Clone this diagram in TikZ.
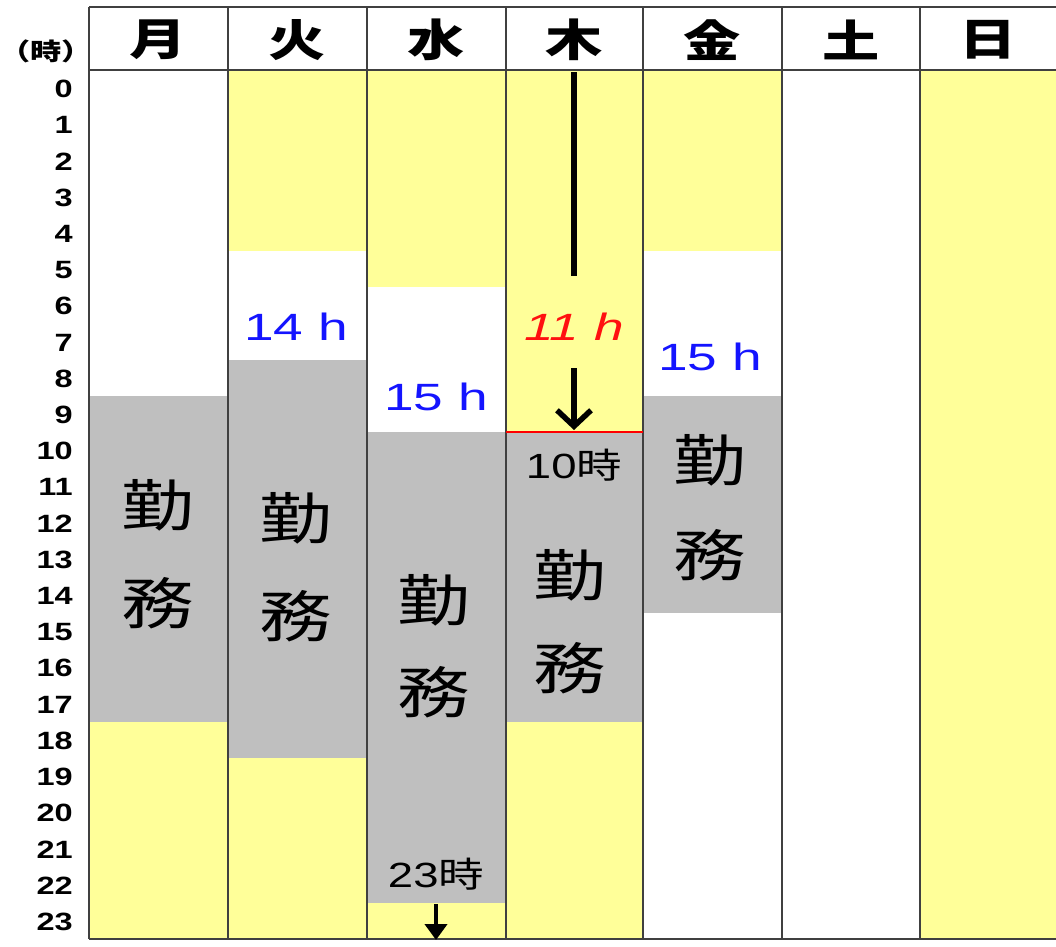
\documentclass[tikz,border=0pt]{standalone}
\usepackage{fontspec}
\usepackage{graphicx}
\setmainfont{Liberation Sans}
\newfontfamily\jp{Noto Sans CJK JP}
\usetikzlibrary{arrows.meta}
\definecolor{yel}{HTML}{FFFF99}
\definecolor{gry}{HTML}{BFBFBF}
\definecolor{gridc}{HTML}{404040}
\definecolor{hblue}{HTML}{1414FF}
\definecolor{hred}{HTML}{FF1010}
\newcommand\sx[1]{\scalebox{1.3}[1]{#1}}
\newcommand\sxx[1]{\scalebox{1.4}[1]{#1}}
\tikzset{
  hdr/.style={inner sep=0pt, font=\jp\bfseries\fontsize{44}{44}\selectfont},
  hour/.style={anchor=east, inner sep=0pt, font=\bfseries\fontsize{25}{25}\selectfont},
  dur/.style={inner sep=0pt, text=hblue, font=\fontsize{38}{38}\selectfont},
  work/.style={inner sep=0pt, font=\jp\fontsize{56}{56}\selectfont},
  tm/.style={inner sep=0pt, font=\fontsize{35}{35}\selectfont},
  gridline/.style={draw=gridc, line width=2pt},
}
\begin{document}
\begin{tikzpicture}[x=1pt,y=-1pt]
\useasboundingbox (0,0) rectangle (1056,946);
\fill[white] (0,0) rectangle (1056,946);
% column bands
\foreach \a/\b/\p/\q/\c in {
  89/228/0/9/white, 89/228/9/18/gry, 89/228/18/24/yel,
  228/367/0/5/yel, 228/367/5/8/white, 228/367/8/19/gry, 228/367/19/24/yel,
  367/506/0/6/yel, 367/506/6/10/white, 367/506/10/23/gry, 367/506/23/24/yel,
  506/643/0/10/yel, 506/643/10/18/gry, 506/643/18/24/yel,
  643/782/0/5/yel, 643/782/5/9/white, 643/782/9/15/gry, 643/782/15/24/white,
  782/920/0/24/white, 920/1056/0/24/yel}
  \fill[\c] (\a,{70+36.2*\p}) rectangle (\b,{70+36.2*\q});
% grid
\draw[gridline] (89,7) -- (1056,7);
\draw[gridline] (89,70) -- (1056,70);
\draw[gridline] (89,939) -- (1056,939);
\foreach \x in {89,228,367,506,643,782,920}
  \draw[gridline] (\x,7) -- (\x,939);
% red line
\draw[red, line width=2pt] (506,432) -- (643,432);
% headers
\node[hdr] (dMon) at (158.5,40) {\sx{月}};
\node[hdr] (dTue) at (297.5,40) {\sx{火}};
\node[hdr] (dWed) at (436.5,40) {\sx{水}};
\node[hdr] (dThu) at (574.5,40) {\sx{木}};
\node[hdr] (dFri) at (712.5,40) {\sx{金}};
\node[hdr] (dSat) at (851,40) {\sx{土}};
\node[hdr] (dSun) at (988,40) {\sx{日}};
\node[inner sep=0pt, font=\jp\bfseries\fontsize{24}{24}\selectfont] (unit) at (46,51) {\sx{（時）}};
% hours
\foreach \h in {0,...,23}
  \node[hour] (hr\h) at (73,{70+36.2*(\h+0.5)+1}) {\sx{\h}};
% durations
\node[dur] (d14) at (296,327) {\sxx{14 h}};
\node[dur] (d15a) at (436,397) {\sxx{15 h}};
\node[dur, text=hred, font=\itshape\fontsize{38}{38}\selectfont] (d11) at (574,327) {\sxx{11 h}};
\node[dur] (d15b) at (710,357) {\sxx{15 h}};
% work labels
\node[work] (k1) at (158,505) {\sx{勤}};
\node[work] (m1) at (158,603) {\sx{務}};
\node[work] (k2) at (296,518) {\sx{勤}};
\node[work] (m2) at (296,616) {\sx{務}};
\node[work] (k3) at (434,600) {\sx{勤}};
\node[work] (m3) at (434,692) {\sx{務}};
\node[work] (k4) at (570,575) {\sx{勤}};
\node[work] (m4) at (570,668) {\sx{務}};
\node[work] (k5) at (710,460) {\sx{勤}};
\node[work] (m5) at (710,555) {\sx{務}};
% times
\node[tm] (t10) at (574,465) {\sx{10{\jp 時}}};
\node[tm] (t23) at (436,874) {\sx{23{\jp 時}}};
% arrows
\coordinate (a1) at (574,72);
\coordinate (a2) at (574,276);
\coordinate (a3) at (574,368);
\coordinate (a4) at (574,430);
\draw[line width=5.5pt] (a1) -- (a2);
\draw[line width=5.5pt, -{Straight Barb[length=16pt, width=34pt, line width=5.5pt]}] (a3) -- (a4);
\coordinate (b1) at (436,904);
\coordinate (b2) at (436,940);
\draw[line width=4pt, -{Triangle[length=16pt, width=22pt]}] (b1) -- (b2);
\end{tikzpicture}
\end{document}
